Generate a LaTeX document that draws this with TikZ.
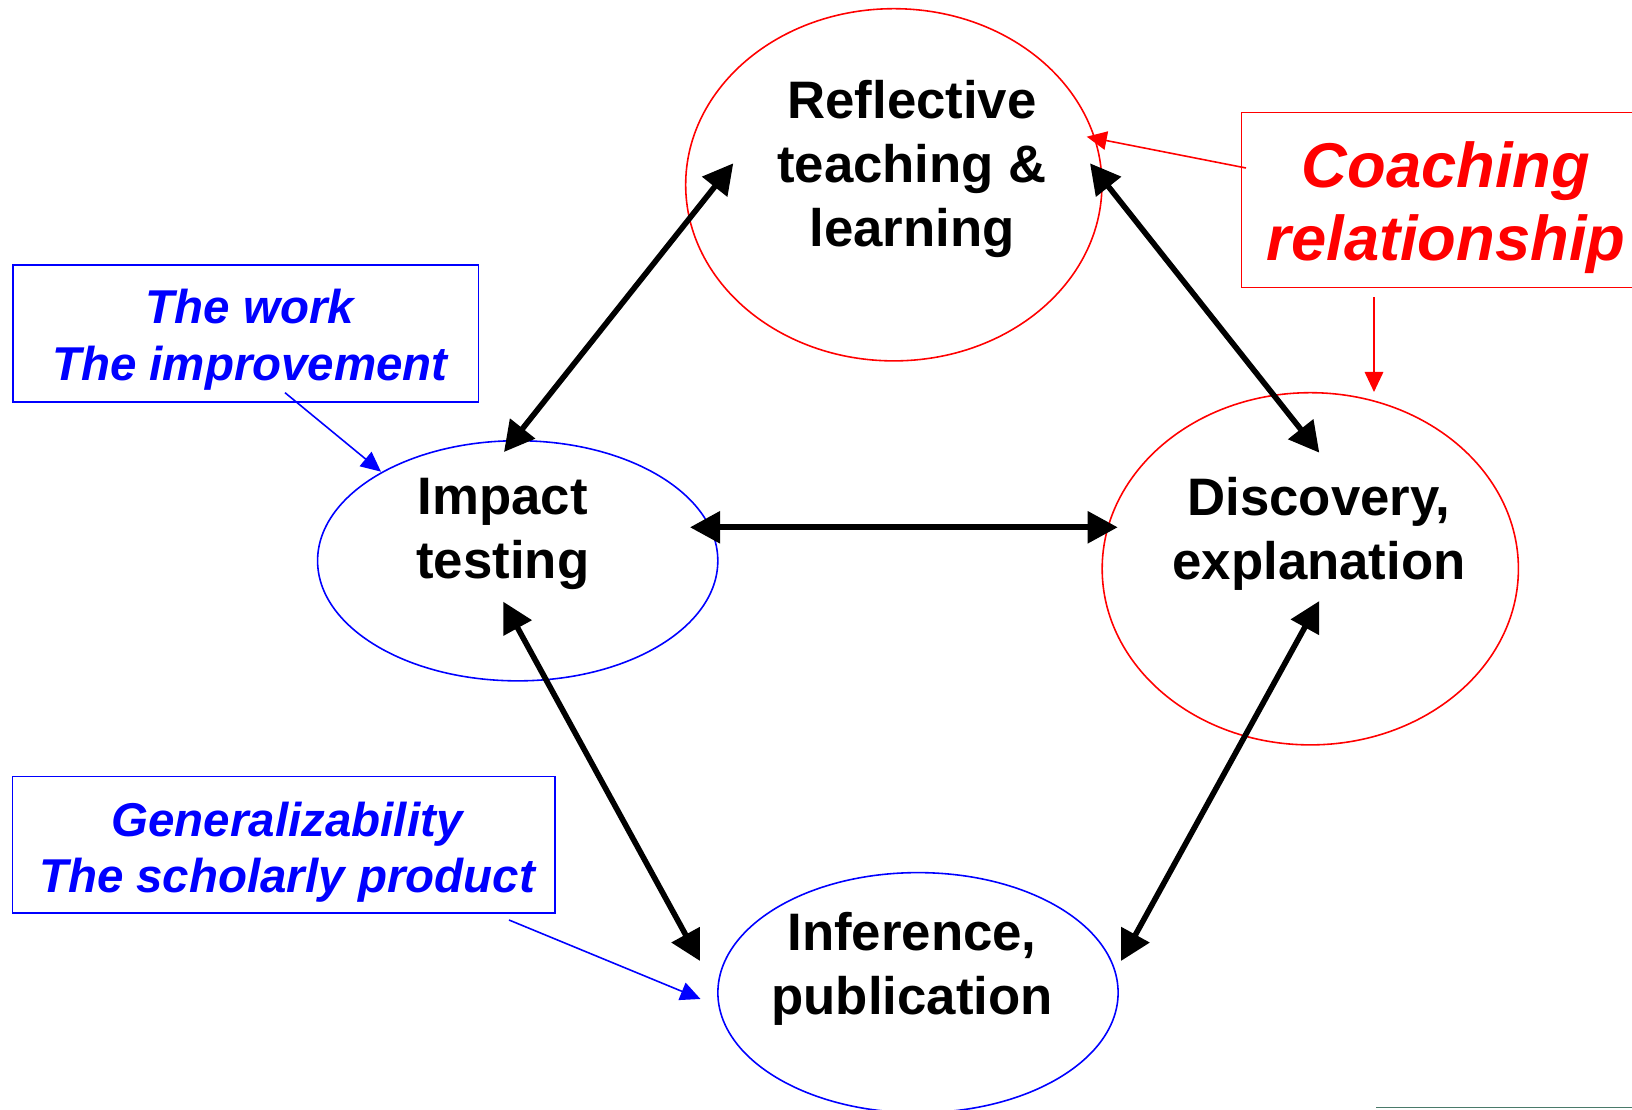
\documentclass[tikz,border=0pt]{standalone}
\usepackage{fontspec}
\setmainfont{Liberation Sans}
\usetikzlibrary{shapes.geometric,arrows.meta}
\definecolor{rulegreen}{RGB}{74,122,106}

\begin{document}
\begin{tikzpicture}[x=0.01cm,y=-0.01cm,
  bubble/.style={ellipse,draw,line width=0.45pt,inner sep=0pt},
  bigtext/.style={font=\fontsize{15}{18.2}\selectfont\bfseries,align=center,inner sep=0pt},
  note/.style={font=\fontsize{13.5}{16.1}\selectfont\bfseries\itshape,text=blue,align=center,inner sep=0pt},
  notebox/.style={draw,line width=0.45pt,inner sep=0pt},
  link/.style={{Triangle[length=0.3cm,width=0.31cm]}-{Triangle[length=0.3cm,width=0.31cm]},line width=1.6pt},
  pointer/.style={-{Triangle[length=0.2cm,width=0.185cm]},line width=0.45pt}]

\clip (0,0) rectangle (1632,1110);

\node[bubble,draw=red,minimum width=4.16cm,minimum height=3.52cm] (v1) at (893.8,184.8) {};
\node[bubble,draw=blue,minimum width=4cm,minimum height=2.4cm] (v2) at (517.7,560.8) {};
\node[bubble,draw=red,minimum width=4.16cm,minimum height=3.52cm] (v3) at (1310.3,568.8) {};
\node[bubble,draw=blue,minimum width=4cm,minimum height=2.4cm] (v4) at (918,992.7) {};

\node[bigtext] (v5) at (912,168.8) {Reflective\\teaching \&\\learning};
\node[bigtext] (v6) at (502.8,534.3) {Impact\\testing};
\node[bigtext] (v7) at (1319,533.8) {Discovery,\\explanation};
\node[bigtext] (v8) at (912,968.8) {Inference,\\publication};

\node[notebox,draw=blue,minimum width=4.65cm,minimum height=1.367cm] (v9) at (245.8,333.4) {};
\node[note] (v10) at (250,339.6) {The work\\The improvement};
\node[notebox,draw=blue,minimum width=5.422cm,minimum height=1.364cm] (v11) at (283.6,844.6) {};
\node[note] (v12) at (287,852.4) {Generalizability\\The scholarly product};
\node[notebox,draw=red,minimum width=4.2cm,minimum height=1.749cm] (v13) at (1451.7,199.9) {};
\node[note,text=red,font=\fontsize{18}{20.7}\selectfont\bfseries\itshape] (v14) at (1446,207.7) {Coaching\\relationship};

\coordinate (v15) at (504,452);
\coordinate (v16) at (733.3,163.3);
\coordinate (v17) at (1090,163.3);
\coordinate (v18) at (1319.3,452.7);
\coordinate (v19) at (690,527.3);
\coordinate (v20) at (1117.7,527.3);
\coordinate (v21) at (503.3,601.7);
\coordinate (v22) at (700,961);
\coordinate (v23) at (1319.3,601);
\coordinate (v24) at (1121,961);

\draw [link] (v15) -- (v16);
\draw [link] (v17) -- (v18);
\draw [link] (v19) -- (v20);
\draw [link] (v21) -- (v22);
\draw [link] (v23) -- (v24);

\coordinate (v25) at (1246,168);
\coordinate (v26) at (1086.7,136.7);
\coordinate (v27) at (1374,297.5);
\coordinate (v28) at (1374,392);
\coordinate (v29) at (285,392.7);
\coordinate (v30) at (381,471.7);
\coordinate (v31) at (509,920);
\coordinate (v32) at (700.5,999);

\draw [pointer,red] (v25) -- (v26);
\draw [pointer,red] (v27) -- (v28);
\draw [pointer,blue] (v29) -- (v30);
\draw [pointer,blue] (v31) -- (v32);

\draw [rulegreen,line width=0.5pt] (1376,1107.5) -- (1632,1107.5);
\end{tikzpicture}
\end{document}
